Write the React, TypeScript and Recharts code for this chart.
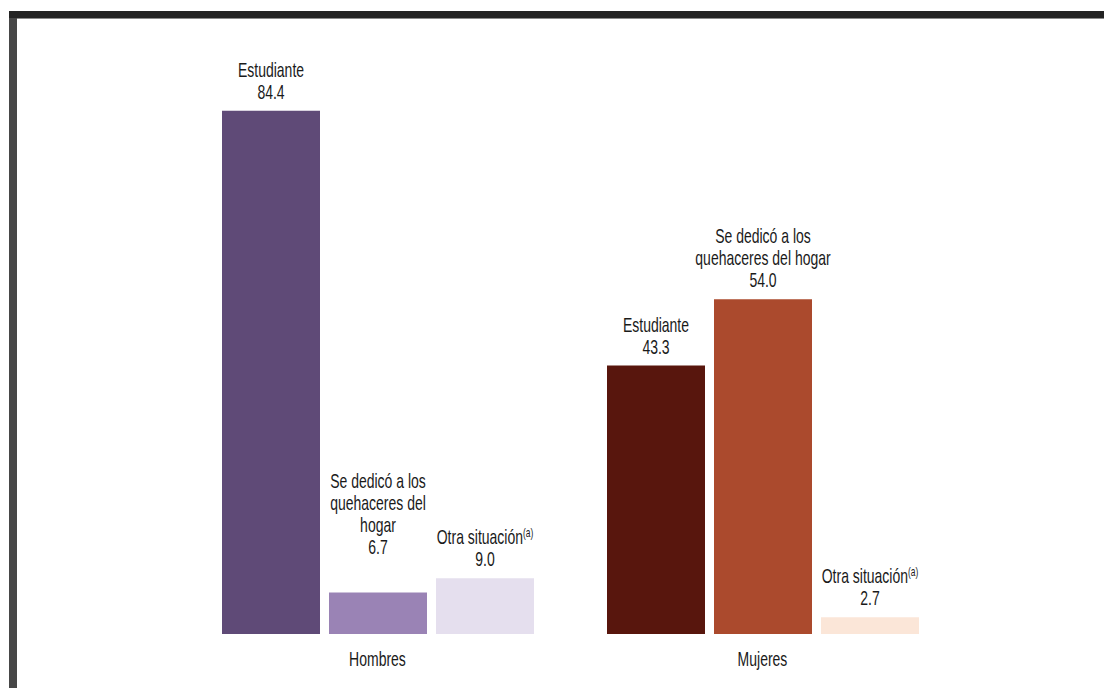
import { Bar, BarChart, Cell, XAxis, YAxis } from 'recharts';

const groups = ['Hombres', 'Mujeres'];
const estudiante = [84.4, 43.3];
const hogar = [6.7, 54.0];
const otra = [9.0, 2.7];

const estudianteText = [['Estudiante'], ['Estudiante']];
const hogarText = [
  ['Se dedicó a los', 'quehaceres del', 'hogar'],
  ['Se dedicó a los', 'quehaceres del hogar'],
];
const otraText = [['Otra situación'], ['Otra situación']];

const COLORS: Record<string, string[]> = {
  est: ['#5f4a77', '#58160d'],
  hog: ['#9a83b5', '#ab4a2d'],
  otra: ['#e5dfee', '#fbe6d8'],
};

const data = groups.map((g, i) => ({
  group: g,
  est: estudiante[i],
  hog: hogar[i],
  otra: otra[i],
}));

// no narrow font available, so squeeze Liberation Sans horizontally
const FONT = "'Liberation Sans', Arial, sans-serif";
const SQUEEZE = 0.7;
const FONT_SIZE = 20;
const LINE_H = 22;

function NarrowText({ x, y, children }: { x: number; y: number; children: any }) {
  return (
    <text
      x={x}
      y={y}
      textAnchor="middle"
      fontFamily={FONT}
      fontSize={FONT_SIZE}
      fill="#1a1a1a"
      transform={`translate(${x},0) scale(${SQUEEZE},1) translate(${-x},0)`}
    >
      {children}
    </text>
  );
}

function makeLabel(texts: string[][], sup: boolean, lifts: number[] = [0, 0]) {
  return (props: any) => {
    const { x, y, width, value, index } = props;
    const cx = x + width / 2;
    const lines = [...texts[index], Number(value).toFixed(1)];
    const last = y - 12 - lifts[index];
    return (
      <g>
        {lines.map((t, k) => {
          const ly = last - (lines.length - 1 - k) * LINE_H;
          const withSup = sup && k === lines.length - 2;
          return (
            <NarrowText key={k} x={cx} y={ly}>
              {t}
              {withSup && (
                <tspan fontSize={12} dy={-7}>
                  (a)
                </tspan>
              )}
            </NarrowText>
          );
        })}
      </g>
    );
  };
}

function GroupTick(props: any) {
  const { x, y, payload } = props;
  return (
    <NarrowText x={x} y={y + 24}>
      {payload.value}
    </NarrowText>
  );
}

export default function App() {
  return (
    <div style={{ position: 'absolute', left: 0, top: 0, width: 1104, height: 688, background: '#fff' }}>
      <div style={{ position: 'absolute', left: 9, top: 11, width: 1095, height: 7, background: '#232323' }} />
      <div style={{ position: 'absolute', left: 9, top: 18, width: 1095, height: 1, background: '#8a8a8a' }} />
      <div style={{ position: 'absolute', left: 9, top: 18, width: 8, height: 670, background: '#474747' }} />
      <div style={{ position: 'absolute', left: 0, top: 0 }}>
        <BarChart
          width={1104}
          height={688}
          data={data}
          margin={{ top: 76, right: 149, left: 185, bottom: 24 }}
          barSize={98}
          barGap={9}
        >
          <YAxis hide domain={[0, 90]} />
          <XAxis dataKey="group" axisLine={false} tickLine={false} tick={<GroupTick />} />
          <Bar dataKey="est" isAnimationActive={false} label={makeLabel(estudianteText, false)}>
            {data.map((_, i) => (
              <Cell key={i} fill={COLORS.est[i]} />
            ))}
          </Bar>
          <Bar dataKey="hog" isAnimationActive={false} label={makeLabel(hogarText, false, [26, 0])}>
            {data.map((_, i) => (
              <Cell key={i} fill={COLORS.hog[i]} />
            ))}
          </Bar>
          <Bar dataKey="otra" isAnimationActive={false} label={makeLabel(otraText, true)}>
            {data.map((_, i) => (
              <Cell key={i} fill={COLORS.otra[i]} />
            ))}
          </Bar>
        </BarChart>
      </div>
    </div>
  );
}
